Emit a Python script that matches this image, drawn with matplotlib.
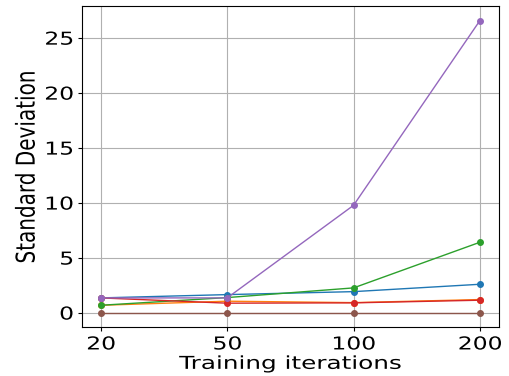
import numpy as np
import matplotlib
matplotlib.use("Agg")
import matplotlib.pyplot as plt
from matplotlib.patheffects import AbstractPathEffect
from matplotlib.transforms import Affine2D

iterations = ["20", "50", "100", "200"]
blue = [1.33, 1.63, 1.9, 2.57]
orange = [0.66, 1.03, 0.9, 1.18]
green = [0.66, 1.36, 2.24, 6.39]
red = [1.33, 0.85, 0.88, 1.12]
purple = [1.33, 1.33, 9.75, 26.55]
brown = [0.0, 0.0, 0.0, 0.0]


class Stretch(AbstractPathEffect):
    # widen the drawn text horizontally, keeping one anchor fixed
    def __init__(self, sx=1.0, anchor="center"):
        super().__init__()
        self.sx = sx
        self.anchor = anchor

    def draw_path(self, renderer, gc, tpath, affine, rgbFace=None):
        v = affine.transform(tpath.vertices)
        if self.anchor == "right":
            cx = v[:, 0].max()
        else:
            cx = (v[:, 0].min() + v[:, 0].max()) / 2
        new = affine + Affine2D().translate(-cx, 0).scale(self.sx, 1).translate(cx, 0)
        renderer.draw_path(gc, tpath, new, rgbFace)


fig = plt.figure(figsize=(5.09, 3.76), dpi=100)
ax = fig.add_axes([0.161, 0.130, 0.819, 0.854])
x = np.arange(len(iterations))
for ys in [blue, orange, green, red, purple, brown]:
    ax.plot(x, ys, marker='o', markersize=4, linewidth=1)
ax.set_xticks(x)
ax.set_xticklabels(iterations)
ax.grid(True)
ax.tick_params(labelsize=12.8, length=3, pad=3)
xl = ax.set_xlabel("Training iterations", fontsize=12.8, labelpad=1)
xl.set_path_effects([Stretch(1.39)])
yl = ax.set_ylabel("Standard Deviation", fontsize=14.4, labelpad=10.5)
yl.set_path_effects([Stretch(1.3)])

fig.canvas.draw()
for t in ax.get_xticklabels():
    t.set_path_effects([Stretch(1.32)])
for t in ax.get_yticklabels():
    t.set_path_effects([Stretch(1.32, anchor="right")])
fig.savefig("out.png", dpi=100)
